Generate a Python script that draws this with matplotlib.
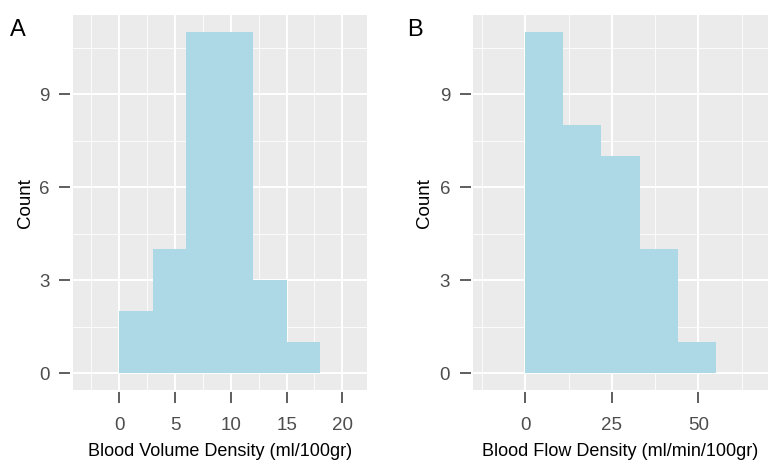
import numpy as np
import matplotlib
matplotlib.use('Agg')
import matplotlib.pyplot as plt
from matplotlib.ticker import MultipleLocator

# histogram bins and counts for the two perfusion measures
vol_edges = [0, 3, 6, 9, 12, 15, 18]
vol_counts = [2, 4, 11, 11, 3, 1]
flow_edges = [0, 11, 22, 33, 44, 55]
flow_counts = [11, 8, 7, 4, 1]

vol_ticks = [0, 5, 10, 15, 20]
flow_ticks = [0, 25, 50]
count_ticks = [0, 3, 6, 9]

plt.rcParams['font.family'] = ['Liberation Sans', 'DejaVu Sans']

W, H = 768, 471
fig = plt.figure(figsize=(W / 100, H / 100), dpi=100)

def panel(left_px, right_px, edges, counts, xticks, xlim, xminor, xlabel, ylab_x):
    top_px, bot_px = 15, 390.4
    ax = fig.add_axes([left_px / W, 1 - bot_px / H,
                       (right_px - left_px) / W, (bot_px - top_px) / H])
    ax.set_facecolor('#EBEBEB')
    edges = np.array(edges)
    ax.bar(edges[:-1], counts, width=np.diff(edges), align='edge',
           color='#ADD8E6', linewidth=0)
    ax.set_xlim(*xlim)
    ax.set_ylim(-0.55, 11.55)
    ax.set_xticks(xticks)
    ax.set_yticks(count_ticks)
    ax.xaxis.set_minor_locator(MultipleLocator(xminor))
    ax.yaxis.set_minor_locator(MultipleLocator(1.5))
    ax.set_axisbelow(True)
    ax.grid(which='major', color='white', linewidth=1.4)
    ax.grid(which='minor', color='white', linewidth=0.6)
    for s in ax.spines.values():
        s.set_visible(False)
    ax.spines['left'].set_position(('outward', 1.5))
    ax.spines['bottom'].set_position(('outward', 1.5))
    ax.tick_params(which='major', length=8, width=1.1, color='#333333',
                   labelcolor='#4D4D4D', labelsize=13.5)
    ax.tick_params(axis='x', which='major', pad=9.5)
    ax.tick_params(axis='y', which='major', pad=7)
    ax.tick_params(which='minor', length=0)
    ax.set_xlabel(xlabel, fontsize=13, va='center')
    ax.xaxis.set_label_coords(0.5, -0.1628)
    ax.set_ylabel('Count', fontsize=13.5, va='center')
    ax.yaxis.set_label_coords(ylab_x, 0.5)
    return ax

panel(72.5, 366.7, vol_edges, vol_counts, vol_ticks, (-4.18, 22.18), 2.5,
      'Blood Volume Density (ml/100gr)', -0.1587)
panel(473, 768, flow_edges, flow_counts, flow_ticks, (-15.1, 70.1), 12.5,
      'Blood Flow Density (ml/min/100gr)', -0.1634)

fig.text(18 / W, 1 - 30 / H, 'A', fontsize=17, ha='center', va='center')
fig.text(414.5 / W, 1 - 30 / H, 'B', fontsize=17, ha='center', va='center')

fig.savefig('out.png', dpi=100)
